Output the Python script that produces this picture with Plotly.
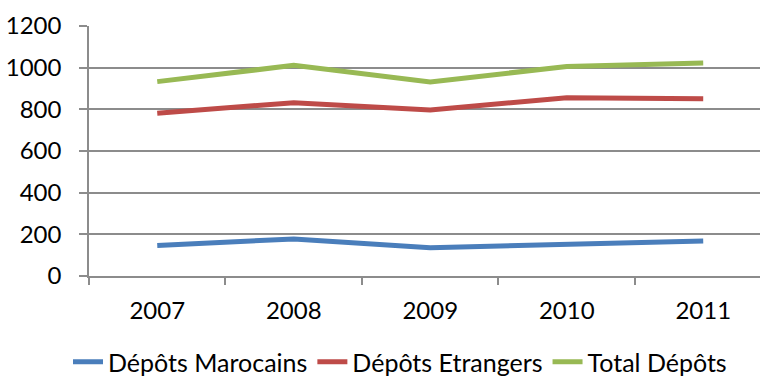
import plotly.graph_objects as go

years = ["2007", "2008", "2009", "2010", "2011"]
marocains = [147, 178, 136, 152, 168]
etrangers = [781, 832, 797, 856, 851]
total = [933, 1011, 931, 1006, 1022]
y_ticks = [0, 200, 400, 600, 800, 1000, 1200]

series = [
    ("Dépôts Marocains", marocains, "#4A7EBB"),
    ("Dépôts Etrangers", etrangers, "#BE4B48"),
    ("Total Dépôts", total, "#98B954"),
]

fig = go.Figure()
for name, vals, color in series:
    fig.add_trace(go.Scatter(x=years, y=vals, name=name, mode="lines",
                             line=dict(color=color, width=5)))

grid = "#8C8C8C"
fig.update_layout(
    width=760, height=376,
    margin=dict(l=89, r=0, t=26, b=100, autoexpand=False),
    paper_bgcolor="white", plot_bgcolor="white",
    font=dict(family="Lato, Open Sans, sans-serif", size=24, color="black"),
    showlegend=True,
    legend=dict(orientation="h", x=0.4635, xanchor="center", y=-0.344, yanchor="middle",
                font=dict(size=25), itemwidth=30, tracegroupgap=0,
                bgcolor="rgba(0,0,0,0)"),
    xaxis=dict(type="category", categoryorder="array", categoryarray=years,
               range=[-0.5, 4.416], tickson="boundaries", ticks="outside",
               ticklen=7, tickcolor=grid, tickwidth=1.5, showline=True,
               linecolor=grid, linewidth=1.5, showgrid=False, fixedrange=True,
               ticklabelstandoff=12),
    yaxis=dict(range=[0, 1200], tickvals=y_ticks, ticks="outside", ticklen=8,
               tickcolor=grid, tickwidth=1.5, showline=True, linecolor=grid,
               linewidth=1.5, showgrid=True, gridcolor=grid, gridwidth=1.5,
               zeroline=False, ticklabelstandoff=13),
)

fig.write_html("out.html")
